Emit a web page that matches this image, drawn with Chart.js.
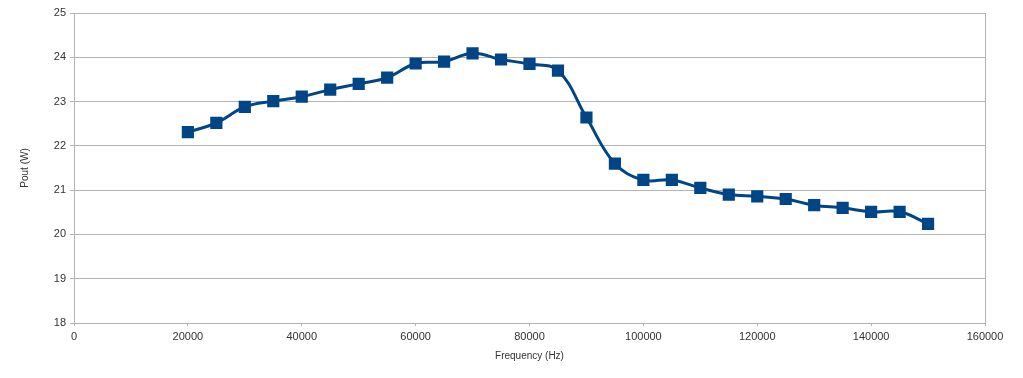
<!DOCTYPE html>
<html>
<head>
<meta charset="utf-8">
<script src="https://cdn.jsdelivr.net/npm/chart.js@4"></script>
<style>
  html, body { margin: 0; padding: 0; background: #fff; }
  #wrap { width: 1023px; height: 378px; position: relative; }
</style>
</head>
<body>
<div id="wrap"><canvas id="poutChart"></canvas></div>
<script>
// Frequency sweep (Hz) and measured output power (W)
const frequencies = [20000, 25000, 30000, 35000, 40000, 45000, 50000, 55000, 60000, 65000,
  70000, 75000, 80000, 85000, 90000, 95000, 100000, 105000, 110000, 115000,
  120000, 125000, 130000, 135000, 140000, 145000, 150000];
const pout = [22.31, 22.52, 22.88, 23.01, 23.11, 23.27, 23.4, 23.54, 23.86, 23.9,
  24.09, 23.95, 23.85, 23.7, 22.64, 21.6, 21.23, 21.23, 21.05, 20.9,
  20.86, 20.8, 20.66, 20.6, 20.51, 20.51, 20.24];

const xTicks = [0, 20000, 40000, 60000, 80000, 100000, 120000, 140000, 160000];
const yTicks = [18, 19, 20, 21, 22, 23, 24, 25];

const lineColor = '#004586';
const gridColor = '#b3b3b3';
const textColor = '#333333';
const fontFamily = "'Liberation Sans', Arial, sans-serif";

const points = frequencies.map((f, i) => ({ x: f, y: pout[i] }));

new Chart(document.getElementById('poutChart'), {
  type: 'line',
  data: {
    datasets: [{
      label: 'Pout',
      data: points,
      borderColor: lineColor,
      backgroundColor: lineColor,
      borderWidth: 3,
      tension: 0.4,
      pointStyle: 'rect',
      pointRadius: 6.5,
      pointHoverRadius: 6.5,
      fill: false
    }]
  },
  options: {
    responsive: true,
    maintainAspectRatio: false,
    animation: false,
    layout: { padding: { top: 13, right: 38, left: 0, bottom: 0 } },
    plugins: {
      legend: { display: false },
      tooltip: { enabled: false }
    },
    scales: {
      x: {
        type: 'linear',
        min: xTicks[0],
        max: xTicks[xTicks.length - 1],
        afterBuildTicks: axis => { axis.ticks = xTicks.map(v => ({ value: v })); },
        afterFit: axis => { axis.height = 55; },
        border: { display: true, color: gridColor, width: 1 },
        grid: {
          color: ctx => (ctx.tick && ctx.tick.value === 160000) ? gridColor : 'rgba(0,0,0,0)',
          tickColor: gridColor,
          tickLength: 3,
          lineWidth: 1
        },
        ticks: {
          color: textColor,
          padding: 4,
          maxRotation: 0,
          autoSkip: false,
          font: { family: fontFamily, size: 11 },
          callback: v => String(v)
        },
        title: {
          display: true,
          text: 'Frequency (Hz)',
          color: textColor,
          font: { family: fontFamily, size: 10 },
          padding: { top: 0, bottom: 16 }
        }
      },
      y: {
        min: yTicks[0],
        max: yTicks[yTicks.length - 1],
        afterBuildTicks: axis => { axis.ticks = yTicks.map(v => ({ value: v })); },
        afterFit: axis => { axis.width = 74; },
        border: { display: true, color: gridColor, width: 1 },
        grid: {
          color: gridColor,
          tickLength: 4,
          lineWidth: 1
        },
        ticks: {
          color: textColor,
          padding: 4,
          autoSkip: false,
          font: { family: fontFamily, size: 11 }
        },
        title: {
          display: true,
          text: 'Pout (W)',
          color: textColor,
          font: { family: fontFamily, size: 10 },
          padding: { top: 19, bottom: 0 }
        }
      }
    }
  }
});
</script>
</body>
</html>
